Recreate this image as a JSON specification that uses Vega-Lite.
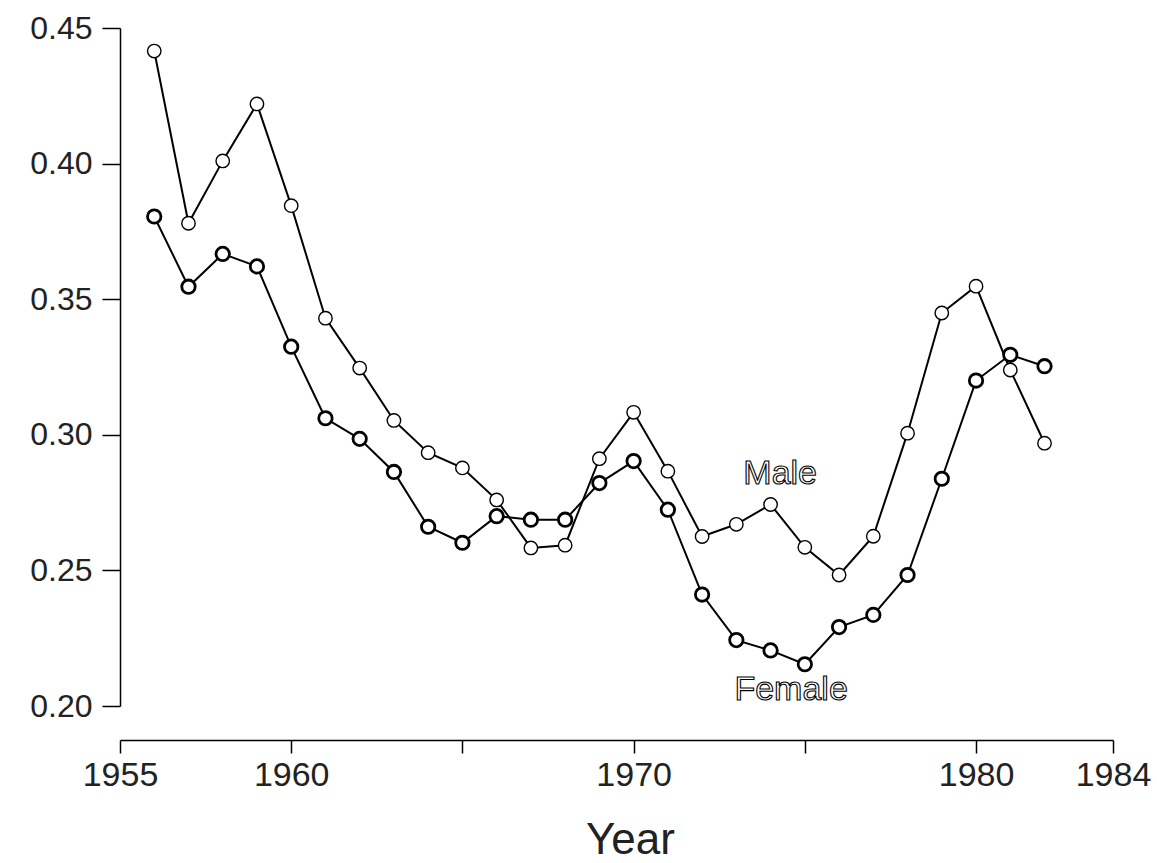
{
  "$schema": "https://vega.github.io/schema/vega-lite/v6.json",
  "autosize": {"type": "none"},
  "padding": {"left": 120, "top": 28, "right": 44, "bottom": 157},
  "width": 993,
  "height": 678,
  "background": "white",
  "config": {"view": {"stroke": null}, "font": "Liberation Sans"},
  "datasets": {
    "rates": [
      {"year": 1956, "sex": "Male", "rate": 0.4415},
      {"year": 1957, "sex": "Male", "rate": 0.378},
      {"year": 1958, "sex": "Male", "rate": 0.401},
      {"year": 1959, "sex": "Male", "rate": 0.422},
      {"year": 1960, "sex": "Male", "rate": 0.3845},
      {"year": 1961, "sex": "Male", "rate": 0.343},
      {"year": 1962, "sex": "Male", "rate": 0.3246},
      {"year": 1963, "sex": "Male", "rate": 0.3053},
      {"year": 1964, "sex": "Male", "rate": 0.2934},
      {"year": 1965, "sex": "Male", "rate": 0.2878},
      {"year": 1966, "sex": "Male", "rate": 0.276},
      {"year": 1967, "sex": "Male", "rate": 0.2583},
      {"year": 1968, "sex": "Male", "rate": 0.2593},
      {"year": 1969, "sex": "Male", "rate": 0.2912},
      {"year": 1970, "sex": "Male", "rate": 0.3083},
      {"year": 1971, "sex": "Male", "rate": 0.2866},
      {"year": 1972, "sex": "Male", "rate": 0.2625},
      {"year": 1973, "sex": "Male", "rate": 0.267},
      {"year": 1974, "sex": "Male", "rate": 0.2743},
      {"year": 1975, "sex": "Male", "rate": 0.2585},
      {"year": 1976, "sex": "Male", "rate": 0.2483},
      {"year": 1977, "sex": "Male", "rate": 0.2626},
      {"year": 1978, "sex": "Male", "rate": 0.3006},
      {"year": 1979, "sex": "Male", "rate": 0.3449},
      {"year": 1980, "sex": "Male", "rate": 0.3548},
      {"year": 1981, "sex": "Male", "rate": 0.3239},
      {"year": 1982, "sex": "Male", "rate": 0.2969},
      {"year": 1956, "sex": "Female", "rate": 0.3805},
      {"year": 1957, "sex": "Female", "rate": 0.3546},
      {"year": 1958, "sex": "Female", "rate": 0.3667},
      {"year": 1959, "sex": "Female", "rate": 0.3621},
      {"year": 1960, "sex": "Female", "rate": 0.3325},
      {"year": 1961, "sex": "Female", "rate": 0.3061},
      {"year": 1962, "sex": "Female", "rate": 0.2985},
      {"year": 1963, "sex": "Female", "rate": 0.2863},
      {"year": 1964, "sex": "Female", "rate": 0.2661},
      {"year": 1965, "sex": "Female", "rate": 0.2602},
      {"year": 1966, "sex": "Female", "rate": 0.27},
      {"year": 1967, "sex": "Female", "rate": 0.2687},
      {"year": 1968, "sex": "Female", "rate": 0.2687},
      {"year": 1969, "sex": "Female", "rate": 0.2822},
      {"year": 1970, "sex": "Female", "rate": 0.2903},
      {"year": 1971, "sex": "Female", "rate": 0.2724},
      {"year": 1972, "sex": "Female", "rate": 0.2411},
      {"year": 1973, "sex": "Female", "rate": 0.2243},
      {"year": 1974, "sex": "Female", "rate": 0.2205},
      {"year": 1975, "sex": "Female", "rate": 0.2154},
      {"year": 1976, "sex": "Female", "rate": 0.2291},
      {"year": 1977, "sex": "Female", "rate": 0.2336},
      {"year": 1978, "sex": "Female", "rate": 0.2483},
      {"year": 1979, "sex": "Female", "rate": 0.2838},
      {"year": 1980, "sex": "Female", "rate": 0.32},
      {"year": 1981, "sex": "Female", "rate": 0.3295},
      {"year": 1982, "sex": "Female", "rate": 0.3253}
    ],
    "labels": [
      {"year": 1974.28, "rate": 0.2857, "text": "Male"},
      {"year": 1974.6, "rate": 0.2058, "text": "Female"}
    ]
  },
  "layer": [
    {
      "data": {"name": "rates"},
      "mark": {"type": "line", "color": "black", "strokeWidth": 2},
      "encoding": {
        "x": {
          "field": "year", "type": "quantitative",
          "scale": {"domain": [1955, 1984], "nice": false, "zero": false},
          "axis": {
            "values": [1955, 1960, 1965, 1970, 1975, 1980, 1984],
            "format": "d",
            "labelExpr": "datum.value == 1965 || datum.value == 1975 ? '' : datum.label",
            "title": "Year",
            "offset": 34,
            "grid": false,
            "domainColor": "black", "domainWidth": 1.5,
            "tickColor": "black", "tickWidth": 1.5, "tickSize": 13,
            "labelFontSize": 34, "labelColor": "#222222", "labelPadding": 5,
            "labelFlush": false, "labelOverlap": false,
            "titleFontSize": 44, "titleFontWeight": "normal", "titleColor": "#222222",
            "titlePadding": 26, "titleX": 510
          }
        },
        "y": {
          "field": "rate", "type": "quantitative",
          "scale": {"domain": [0.2, 0.45], "nice": false, "zero": false},
          "axis": {
            "values": [0.2, 0.25, 0.3, 0.35, 0.4, 0.45],
            "format": ".2f",
            "title": null,
            "grid": false,
            "domainColor": "black", "domainWidth": 1.5,
            "tickColor": "black", "tickWidth": 1.5, "tickSize": 18,
            "labelFontSize": 32, "labelColor": "#222222", "labelPadding": 10,
            "labelFlush": false, "labelOverlap": false
          }
        },
        "detail": {"field": "sex", "type": "nominal"}
      }
    },
    {
      "data": {"name": "rates"},
      "mark": {"type": "point", "shape": "circle", "filled": true, "fill": "white", "stroke": "black", "size": 180, "opacity": 1},
      "encoding": {
        "x": {"field": "year", "type": "quantitative"},
        "y": {"field": "rate", "type": "quantitative"},
        "strokeWidth": {
          "field": "sex", "type": "ordinal",
          "scale": {"domain": ["Male", "Female"], "range": [1.4, 2.8]},
          "legend": null
        }
      }
    },
    {
      "data": {"name": "labels"},
      "mark": {"type": "text", "fontSize": 34, "fill": "white", "stroke": "black", "strokeWidth": 1.1, "align": "center", "baseline": "middle"},
      "encoding": {
        "x": {"field": "year", "type": "quantitative"},
        "y": {"field": "rate", "type": "quantitative"},
        "text": {"field": "text", "type": "nominal"}
      }
    }
  ]
}
